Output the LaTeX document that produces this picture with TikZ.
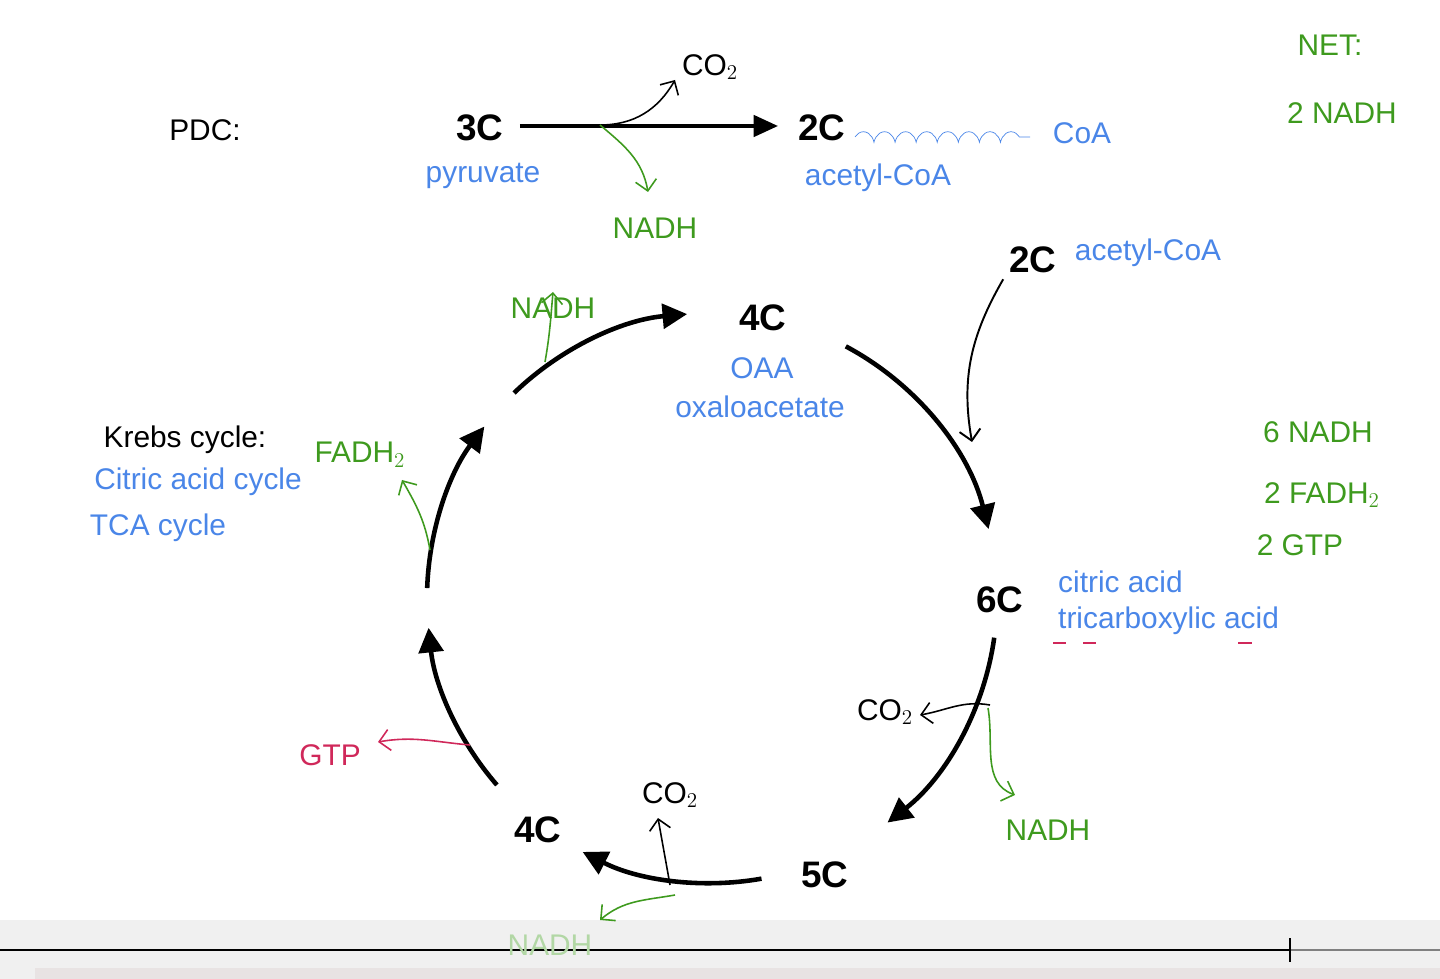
\documentclass[tikz,border=0pt]{standalone}
\usepackage{fontspec}
\setmainfont{Liberation Sans}
\usetikzlibrary{arrows.meta,decorations.pathmorphing}
\definecolor{cblue}{HTML}{4A86E8}
\definecolor{cgreen}{HTML}{3E9A1E}
\definecolor{cred}{HTML}{D0285A}
\tikzset{
 lbl/.style={font=\fontsize{17}{20}\selectfont},
 blab/.style={lbl,text=cblue},
 bold/.style={font=\fontsize{21}{24}\selectfont\bfseries},
 hand/.style={font=\fontsize{17}{20}\selectfont,text=cgreen},
 cyc/.style={line width=2.6pt,-{Triangle[length=14pt,width=14pt]}},
 thin/.style={line width=0.9pt,-{Straight Barb[length=6pt]}},
}
\begin{document}
\begin{tikzpicture}[x=0.02cm,y=-0.02cm]
\useasboundingbox (0,0) rectangle (1440,979);
% bottom bar
\fill[gray!12] (0,920) rectangle (1440,979);
\fill[red!10!gray!20] (35,968) rectangle (1440,979);
\draw[line width=1.5pt] (0,950) -- (1290,950);
\draw[gray,line width=1pt] (1290,950) -- (1440,950);
\draw[line width=1pt] (1290,938) -- (1290,962);
% PDC
\node[lbl] (pdc) at (205,130) {PDC:};
\node[bold] (c3) at (480,128) {3C};
\node[blab] (pyr) at (483,176) {pyruvate};
\node[bold] (c2) at (822,128) {2C};
\node[blab] (acoa) at (878,178) {acetyl-CoA};
\draw[line width=2.6pt,-{Triangle[length=14pt,width=12pt]}] (c3.east)+(10,-2) coordinate (pa) -- ([xshift=-8pt]c2.west |- pa);
\coordinate (pm) at (600,125);
\node[lbl] (co2a) at (710,67) {CO$_2$};
\draw[thin] (pm) to[out=0,in=-120] (675,80);
\node[hand] (nadha) at (655,228) {NADH};
\draw[thin,cgreen] (pm) to[out=-40,in=100] (648,192);
\draw[cblue,decorate,decoration={coil,aspect=0.6,segment length=12pt,amplitude=3pt}] (855,137) -- (1030,137);
\node[lbl,text=cblue] (coa) at (1082,133) {CoA};
\node[hand] (net) at (1330,45) {NET:};
\node[hand] (net2) at (1342,113) {2 NADH};
% cycle nodes
\node[bold] (top) at (763,318) {4C};
\node[blab] (oaa) at (762,368) {OAA};
\node[blab] (oxa) at (760,407) {oxaloacetate};
\node[bold] (c6) at (1000,600) {6C};
\node[blab,anchor=west] (cit) at (1052,582) {citric acid};
\node[blab,anchor=west] (tri) at (1052,621) {tricarboxylic acid};
\draw[cred,line width=1.2pt] (1053,643)--(1066,643) (1083,643)--(1096,643) (1238,643)--(1252,643);
\node[bold] (c5) at (825,875) {5C};
\node[bold] (c4b) at (538,830) {4C};
\node[bold] (c2b) at (1033,260) {2C};
\node[blab] (acoab) at (1148,253) {acetyl-CoA};
\draw[thin,line width=1.1pt] (c2b.south west) to[out=-120,in=100] (972,442);
% cycle arcs
\coordinate (cc) at (712,598);
\draw[cyc] (cc) ++(-134:285) arc[start angle=-134,end angle=-95,radius=285];
\draw[cyc] (cc) ++(-62:285) arc[start angle=-62,end angle=-14,radius=285];
\draw[cyc] (cc) ++(8:285) arc[start angle=8,end angle=52,radius=285];
\draw[cyc] (cc) ++(80:285) arc[start angle=80,end angle=117,radius=285];
\draw[cyc] (cc) ++(139:285) arc[start angle=139,end angle=174,radius=285];
\draw[cyc] (cc) ++(182:285) arc[start angle=182,end angle=217,radius=285];
% krebs text
\node[lbl] (krebs) at (185,440) {Krebs cycle:};
\node[blab] (cac) at (198,482) {Citric acid cycle};
\node[blab] (tca) at (158,528) {TCA cycle};
% side products
\node[hand] (nadhb) at (553,308) {NADH};
\draw[thin,cgreen] (545,362) to[out=80,in=-95] (553,292);
\node[hand] (fadh) at (360,455) {FADH$_2$};
\draw[thin,cgreen] (430,550) to[out=100,in=-60] (402,480);
\node[hand] (s1) at (1318,432) {6 NADH};
\node[hand] (s2) at (1322,495) {2 FADH$_2$};
\node[hand] (s3) at (1300,545) {2 GTP};
\node[lbl] (co2b) at (885,712) {CO$_2$};
\draw[thin] (990,705) to[out=170,in=10] (920,715);
\node[hand] (nadhc) at (1048,830) {NADH};
\draw[thin,cgreen] (988,708) to[out=-80,in=160] (1015,795);
\node[lbl,text=cred] (gtp) at (330,755) {GTP};
\draw[thin,cred] (470,745) to[out=175,in=10] (378,742);
\node[lbl] (co2c) at (670,795) {CO$_2$};
\draw[thin] (670,885) to[out=100,in=-80] (658,818);
\node[hand,text=cgreen!40] (nadhd) at (550,945) {NADH};
\draw[thin,cgreen] (675,895) to[out=190,in=40] (600,920);
\end{tikzpicture}
\end{document}
